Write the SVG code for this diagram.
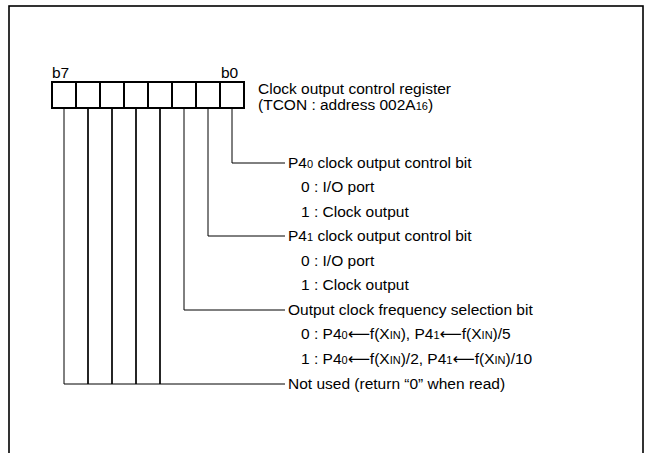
<svg xmlns="http://www.w3.org/2000/svg" width="645" height="453" viewBox="0 0 645 453">
<style>
text{font-family:"Liberation Sans",Arial,"DejaVu Sans",sans-serif;font-size:15.5px;fill:#000}
.s{font-size:11px}
.ar{font-family:"DejaVu Sans",sans-serif;font-size:15.5px}
.ln{stroke:#000;stroke-width:1;fill:none}
.th{stroke-width:1.7}
.bx{stroke:#000;stroke-width:2;fill:#fff}
</style>
<rect x="9" y="6" width="634" height="460" fill="#fff" stroke="#000" stroke-width="1.6"/>
<g id="register">
<rect class="bx" x="52" y="82" width="192" height="26"/>
<path class="ln" style="stroke-width:2" d="M76 82V108M100 82V108M124 82V108M148 82V108M172 82V108M196 82V108M220 82V108"/>
<text x="52" y="78">b7</text>
<text x="221" y="78">b0</text>
<text x="258" y="94">Clock output control register</text>
<text x="258" y="110">(TCON : address 002A<tspan class="s">16</tspan>)</text>
</g>
<g id="connectors">
<path class="ln" d="M232 108V163H285"/>
<path class="ln" d="M208 108V236H285"/>
<path class="ln" d="M184 108V310H285"/>
<path class="ln th" d="M160 108V384M136 108V384M112 108V384M88 108V384"/>
<path class="ln" d="M64 108V384H285"/>
</g>
<g id="bit0">
<text x="288" y="168">P4<tspan class="s">0</tspan> clock output control bit</text>
<text x="301" y="192">0 : I/O port</text>
<text x="301" y="217">1 : Clock output</text>
</g>
<g id="bit1">
<text x="288" y="241">P4<tspan class="s">1</tspan> clock output control bit</text>
<text x="301" y="266">0 : I/O port</text>
<text x="301" y="290">1 : Clock output</text>
</g>
<g id="bit2">
<text x="288" y="315">Output clock frequency selection bit</text>
<text x="301" y="339">0 : P4<tspan class="s">0</tspan><tspan class="ar">⟵</tspan>f(X<tspan class="s">IN</tspan>), P4<tspan class="s">1</tspan><tspan class="ar">⟵</tspan>f(X<tspan class="s">IN</tspan>)/5</text>
<text x="301" y="364">1 : P4<tspan class="s">0</tspan><tspan class="ar">⟵</tspan>f(X<tspan class="s">IN</tspan>)/2, P4<tspan class="s">1</tspan><tspan class="ar">⟵</tspan>f(X<tspan class="s">IN</tspan>)/10</text>
</g>
<g id="bit3-7">
<text x="288" y="389">Not used (return “0” when read)</text>
</g>
</svg>
